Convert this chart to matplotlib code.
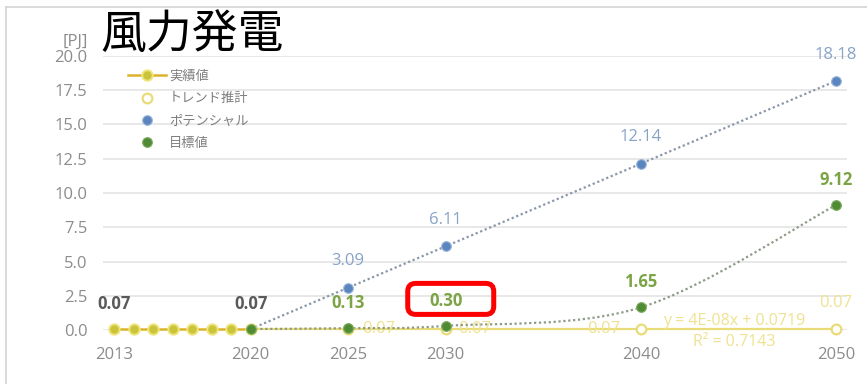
import numpy as np
import matplotlib
matplotlib.use("Agg")
import matplotlib.pyplot as plt
from matplotlib.path import Path
from matplotlib.patches import PathPatch, FancyBboxPatch
from matplotlib.lines import Line2D
from matplotlib.transforms import IdentityTransform

plt.rcParams['font.family'] = ['Open Sans', 'Noto Sans CJK JP', 'DejaVu Sans']

# ---- data -------------------------------------------------------------
title = '風力発電'
unit_label = '[PJ]'
series_names = ['実績値', 'トレンド推計', 'ポテンシャル', '目標値']

actual_years = [2013, 2014, 2015, 2016, 2017, 2018, 2019, 2020]
actual_values = [0.07, 0.07, 0.07, 0.07, 0.07, 0.07, 0.07, 0.07]
actual_labelled = [2013, 2020]

trend_years = [2025, 2030, 2040, 2050]
trend_values = [0.07, 0.07, 0.07, 0.07]
trend_equation = 'y = 4E-08x + 0.0719'
trend_r2 = 'R² = 0.7143'

potential_years = [2020, 2025, 2030, 2040, 2050]
potential_values = [0.07, 3.09, 6.11, 12.14, 18.18]

target_years = [2020, 2025, 2030, 2040, 2050]
target_values = [0.07, 0.13, 0.30, 1.65, 9.12]
highlight_year = 2030

x_ticks = [2013, 2020, 2025, 2030, 2040, 2050]
y_ticks = [0.0, 2.5, 5.0, 7.5, 10.0, 12.5, 15.0, 17.5, 20.0]

# ---- styling ------------------------------------------------------------
C_ACTUAL_LINE = '#DDB32C'
C_ACTUAL_MARK = '#C9C43A'
C_TREND = '#E9DC78'
C_TREND_TXT = '#EEE290'
C_POT = '#5B85BF'
C_POT_LINE = '#8A97A8'
C_POT_TXT = '#88A3C8'
C_TGT = '#4F8A35'
C_TGT_LINE = '#8D9A86'
C_TGT_TXT = '#7BA445'
C_AXIS_TXT = '#8C8C8C'

W, H = 867, 384
fig = plt.figure(figsize=(W / 100, H / 100), dpi=100)
ax = fig.add_axes([103 / W, 54 / H, 744 / W, 274 / H])
ax.set_xlim(2012.436, 2050.564)
ax.set_ylim(0, 20)

for s in ax.spines.values():
    s.set_visible(False)
ax.set_xticks(x_ticks)
ax.set_yticks(y_ticks)
ax.set_yticklabels([f'{v:.1f}' for v in y_ticks])
ax.tick_params(axis='both', length=0, labelsize=12, labelcolor=C_AXIS_TXT)
ax.tick_params(axis='y', pad=11)
ax.tick_params(axis='x', pad=12)
ax.yaxis.grid(True, color='#E4E4E4', lw=1.2)
ax.set_axisbelow(True)


def smooth_path(xs, ys):
    """Bezier path through the points (Catmull-Rom style control points)."""
    pts = np.column_stack([xs, ys]).astype(float)
    verts = [pts[0]]
    codes = [Path.MOVETO]
    n = len(pts)
    for i in range(n - 1):
        p0 = pts[i - 1] if i > 0 else pts[i]
        p1 = pts[i]
        p2 = pts[i + 1]
        p3 = pts[i + 2] if i + 2 < n else pts[i + 1]
        c1 = p1 + (p2 - p0) / 6.0
        c2 = p2 - (p3 - p1) / 6.0
        verts += [c1, c2, p2]
        codes += [Path.CURVE4] * 3
    return Path(verts, codes)


# potential (smoothed dotted line + markers)
ax.add_patch(PathPatch(smooth_path(potential_years, potential_values), fc='none',
                       ec=C_POT_LINE, lw=1.6, ls=(0, (1, 1.2)), zorder=3))
ax.plot(potential_years, potential_values, ls='none', marker='o', ms=7,
        mfc=C_POT, mec='#9DB8DA', mew=0.8, zorder=5, clip_on=False)

# target (smoothed dotted line + markers)
ax.add_patch(PathPatch(smooth_path(target_years, target_values), fc='none',
                       ec=C_TGT_LINE, lw=1.6, ls=(0, (1, 1.2)), zorder=3))

# trend estimate: linear trendline + hollow markers
coef = np.polyfit(trend_years, trend_values, 1)
tx = np.array([actual_years[-1], trend_years[-1]], dtype=float)
ax.plot(tx, np.polyval(coef, tx), color=C_TREND, lw=1.6, zorder=2, clip_on=False)
ax.plot(trend_years, trend_values, ls='none', marker='o', ms=7,
        mfc='white', mec=C_TREND, mew=1.6, zorder=4, clip_on=False)

# actual values
ax.plot(actual_years, actual_values, color=C_ACTUAL_LINE, lw=1.8, marker='o', ms=7.5,
        mfc=C_ACTUAL_MARK, mec='#F0E47C', mew=1.4, zorder=6, clip_on=False)

ax.plot(target_years, target_values, ls='none', marker='o', ms=7,
        mfc=C_TGT, mec='#7FAE62', mew=0.8, zorder=7, clip_on=False)

# ---- data labels --------------------------------------------------------
for yr, v in zip(actual_years, actual_values):
    if yr in actual_labelled:
        ax.annotate(f'{v:.2f}', (yr, v), xytext=(0, 18), textcoords='offset points',
                    ha='center', va='center', fontsize=12, fontweight='bold',
                    color='#5A5A5A', zorder=8)

for yr, v in zip(potential_years[1:], potential_values[1:]):
    ax.annotate(f'{v:.2f}', (yr, v), xytext=(0, 19), textcoords='offset points',
                ha='center', va='center', fontsize=12, color=C_POT_TXT, zorder=8)

for yr, v in zip(target_years[1:], target_values[1:]):
    ax.annotate(f'{v:.2f}', (yr, v), xytext=(0, 18), textcoords='offset points',
                ha='center', va='center', fontsize=12, fontweight='bold',
                color=C_TGT_TXT, zorder=8)

trend_offsets = [(22, 0), (21, 0), (-27, 0), (0, 19)]
for (yr, v), off in zip(zip(trend_years, trend_values), trend_offsets):
    ax.annotate(f'{v:.2f}', (yr, v), xytext=off, textcoords='offset points',
                ha='center', va='center', fontsize=12, color=C_TREND_TXT, zorder=2)

ax.annotate(trend_equation, (2045, np.polyval(coef, 2045)), xytext=(-3, 6),
            textcoords='offset points', ha='center', va='center', fontsize=11.5,
            color=C_TREND_TXT, zorder=2)
ax.annotate(trend_r2, (2045, np.polyval(coef, 2045)), xytext=(-3, -9.5),
            textcoords='offset points', ha='center', va='center', fontsize=11.5,
            color=C_TREND_TXT, zorder=2)

# ---- highlight box around the 2030 target label -------------------------
hv = target_values[target_years.index(highlight_year)]
px, py = ax.transData.transform((highlight_year, hv))
cx, cy = px + 5, py + 27
fig.add_artist(FancyBboxPatch((cx - 43, cy - 15.5), 86, 31,
                              boxstyle='round,pad=0,rounding_size=8',
                              ec='#FF0000', fc='none', lw=3.6,
                              transform=IdentityTransform(), zorder=10))

# ---- legend ---------------------------------------------------------------
handles = [
    Line2D([], [], color=C_ACTUAL_LINE, lw=1.8, marker='o', ms=7.5,
           mfc=C_ACTUAL_MARK, mec='#F0E47C', mew=1.4),
    Line2D([], [], ls='none', marker='o', ms=7, mfc='white', mec=C_TREND, mew=1.6),
    Line2D([], [], ls='none', marker='o', ms=7, mfc=C_POT, mec='#9DB8DA', mew=0.8),
    Line2D([], [], ls='none', marker='o', ms=7, mfc=C_TGT, mec='#7FAE62', mew=0.8),
]
leg = fig.legend(handles, series_names, loc='upper left',
                 bbox_to_anchor=(128 / W, 1 - 70 / H), frameon=False,
                 prop={'family': ['Noto Sans CJK JP', 'DejaVu Sans'], 'size': 9.5},
                 handlelength=2.9, handletextpad=0.2,
                 labelspacing=0.7, borderpad=0, borderaxespad=0)
for t in leg.get_texts():
    t.set_color('#7F7F7F')

# ---- titles and frame -----------------------------------------------------
fig.text(100 / W, 1 - 35 / H, title, fontsize=33, ha='left', va='center',
         color='black', family=['Noto Sans CJK JP', 'DejaVu Sans'])
fig.text(88 / W, 1 - 42 / H, unit_label, fontsize=12, ha='right', va='center',
         color=C_AXIS_TXT)

fig.add_artist(Line2D([6 / W, 6 / W], [0, 1 - 7 / H], color='#D4D4D4', lw=1.2))
fig.add_artist(Line2D([6 / W, 1], [1 - 7 / H, 1 - 7 / H], color='#D4D4D4', lw=1.2))

fig.savefig('out.png', dpi=100)
